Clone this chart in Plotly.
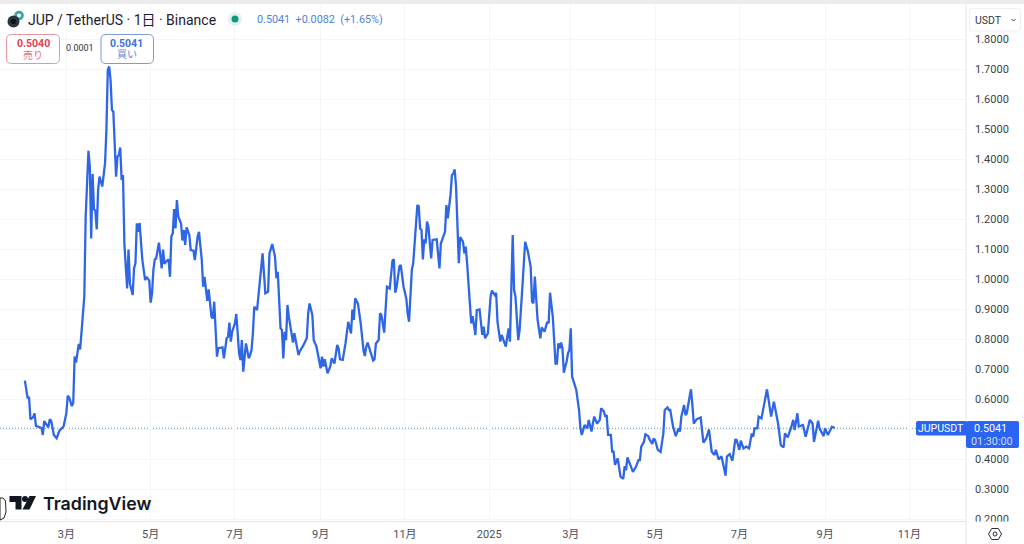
import datetime as dt
import plotly.graph_objects as go

START = dt.date(2024, 1, 31)
# days since first listing bar
days = [0,2,3,4,6,7,8,12,13,14,17,18,19,21,23,25,28,30,31,32,34,35,36,37,39,40,43,44,46,47,48,49,50,51,52,53,54,56,58,59,60,61,62,63,64,66,67,68,69,70,71,72,73,74,75,76,78,79,80,81,82,83,85,87,88,90,91,92,93,94,95,97,99,100,101,102,104,105,106,107,108,109,110,111,113,114,115,116,117,119,120,122,123,125,126,128,129,130,132,133,135,136,137,139,140,143,144,146,147,148,149,150,152,153,155,156,157,158,160,162,163,164,165,166,168,172,174,176,177,179,181,182,183,185,186,187,188,189,190,191,194,195,198,199,201,204,205,206,208,209,211,212,214,215,216,217,219,221,222,224,226,227,228,230,232,234,236,237,238,239,241,243,245,246,247,248,252,253,254,256,257,258,260,262,264,266,267,268,269,271,272,274,276,277,278,280,281,284,285,286,287,288,289,290,291,292,294,295,298,300,301,304,305,306,308,309,310,311,312,314,315,317,318,319,320,323,324,326,327,329,331,332,333,335,337,338,340,341,342,344,345,348,350,351,353,354,355,357,358,360,362,364,366,367,368,369,371,373,374,376,378,379,380,382,384,385,386,387,388,389,390,391,392,393,394,395,396,399,401,402,403,405,407,408,410,411,412,414,416,417,419,420,421,422,424,425,426,427,429,431,433,434,435,436,438,440,442,444,445,446,448,449,451,452,454,455,456,458,460,462,463,465,466,467,469,471,473,474,475,477,478,479,481,482,483,484,486,489,491,493,495,497,499,500,502,504,506,507,508,510,512,514,515,517,518,520,522,524,526,527,528,530,531,533,537,540,542,544,545,547,549,550,552,554,556,557,559,560,563,565,568,570,571,574,575,578,579,581,583,584,586]
prices = [0.663,0.604,0.609,0.534,0.541,0.554,0.512,0.505,0.482,0.528,0.507,0.534,0.53,0.482,0.471,0.496,0.51,0.554,0.612,0.607,0.578,0.589,0.743,0.723,0.785,0.767,0.943,1.209,1.429,1.376,1.137,1.352,1.234,1.229,1.167,1.298,1.343,1.31,1.387,1.498,1.698,1.71,1.665,1.565,1.56,1.343,1.41,1.415,1.44,1.332,1.348,1.12,1.043,0.97,1.10,0.987,0.948,1.037,1.054,1.187,1.159,1.189,1.065,0.998,1.009,0.996,0.923,0.954,1.032,1.067,1.07,1.123,1.037,1.10,1.052,1.059,1.067,1.009,1.143,1.154,1.235,1.17,1.265,1.21,1.187,1.13,1.165,1.115,1.174,1.148,1.098,1.096,1.065,1.143,1.159,1.065,0.976,1.009,0.929,0.967,0.876,0.87,0.926,0.743,0.771,0.774,0.737,0.804,0.809,0.856,0.793,0.826,0.854,0.885,0.754,0.732,0.798,0.693,0.787,0.737,0.748,0.765,0.82,0.909,0.898,1.087,0.954,0.96,1.087,1.118,1.076,1.004,1.026,0.837,0.832,0.737,0.826,0.798,0.915,0.876,0.79,0.821,0.748,0.762,0.776,0.804,0.887,0.92,0.882,0.798,0.776,0.748,0.704,0.743,0.71,0.734,0.687,0.71,0.737,0.72,0.782,0.771,0.734,0.732,0.787,0.859,0.82,0.90,0.865,0.937,0.92,0.854,0.765,0.745,0.776,0.79,0.73,0.734,0.787,0.798,0.887,0.882,0.823,0.976,0.97,1.063,1.067,0.956,0.976,1.043,1.048,0.976,0.937,0.887,0.859,1.032,1.054,1.248,1.243,1.17,1.165,1.067,1.134,1.12,1.193,1.176,1.07,1.132,1.134,1.037,1.12,1.159,1.248,1.204,1.282,1.348,1.352,1.367,1.31,1.054,1.141,1.126,1.087,1.11,1.054,0.854,0.878,0.815,0.898,0.90,0.815,0.843,0.804,0.82,0.943,0.963,0.948,0.956,0.859,0.793,0.815,0.776,0.837,0.793,1.148,0.965,0.943,0.798,0.832,0.976,1.126,1.093,1.043,0.926,0.921,1.01,0.865,0.804,0.84,0.826,0.859,0.854,0.956,0.876,0.72,0.72,0.787,0.77,0.79,0.77,0.689,0.709,0.726,0.754,0.765,0.837,0.676,0.632,0.565,0.504,0.482,0.515,0.504,0.532,0.493,0.52,0.543,0.52,0.532,0.571,0.56,0.543,0.548,0.482,0.482,0.426,0.426,0.382,0.404,0.343,0.335,0.378,0.365,0.407,0.382,0.359,0.374,0.398,0.398,0.443,0.459,0.484,0.478,0.467,0.452,0.47,0.465,0.432,0.425,0.487,0.565,0.574,0.565,0.565,0.51,0.478,0.504,0.493,0.543,0.582,0.548,0.554,0.609,0.634,0.582,0.52,0.534,0.54,0.456,0.47,0.5,0.426,0.415,0.432,0.4,0.411,0.37,0.346,0.41,0.418,0.396,0.465,0.465,0.432,0.463,0.437,0.443,0.437,0.487,0.476,0.504,0.504,0.543,0.537,0.634,0.543,0.593,0.543,0.52,0.448,0.44,0.487,0.474,0.5,0.532,0.498,0.554,0.51,0.515,0.476,0.532,0.52,0.459,0.529,0.504,0.478,0.504,0.482,0.504,0.509,0.505]

last_price = 0.5041
month_ticks = ["2024-03-01","2024-05-01","2024-07-01","2024-09-01","2024-11-01","2025-01-01","2025-03-01","2025-05-01","2025-07-01","2025-09-01","2025-11-01"]
month_labels = ["3月","5月","7月","9月","11月","2025","3月","5月","7月","9月","11月"]
price_ticks = [0.2,0.3,0.4,0.5,0.6,0.7,0.8,0.9,1.0,1.1,1.2,1.3,1.4,1.5,1.6,1.7,1.8]

dates = [(START + dt.timedelta(days=int(d))).isoformat() for d in days]

W, H = 1024, 544
L, R, T, B = 0, 58, 5, 23
PW, PH = W - L - R, H - T - B
FONT = "Roboto, 'Noto Sans CJK JP', sans-serif"
INK = "#131722"
BLUE = "#2f66e6"
LABEL_BLUE = "#2b63f2"


def px(x):
    return (x - L) / PW


def py(y):
    return (H - B - y) / PH


def rrect(x0, y0, x1, y1, r):
    X0, X1, Y0, Y1 = px(x0), px(x1), py(y0), py(y1)
    rx, ry = r / PW, r / PH
    return (f"M{X0+rx},{Y0} L{X1-rx},{Y0} Q{X1},{Y0} {X1},{Y0-ry} L{X1},{Y1+ry} Q{X1},{Y1} {X1-rx},{Y1} "
            f"L{X0+rx},{Y1} Q{X0},{Y1} {X0},{Y1+ry} L{X0},{Y0-ry} Q{X0},{Y0} {X0+rx},{Y0} Z")


def poly(points):
    return "M" + " L".join(f"{px(a)},{py(b)}" for a, b in points) + " Z"


shapes = []


def box(x0, y0, x1, y1, r=0, fill="rgba(0,0,0,0)", line="rgba(0,0,0,0)", w=1):
    shapes.append(dict(type="path", xref="paper", yref="paper", path=rrect(x0, y0, x1, y1, r), fillcolor=fill,
                       line=dict(color=line, width=w), layer="above"))


def circ(cx, cy, r, fill, line="rgba(0,0,0,0)", w=0):
    shapes.append(dict(type="circle", xref="paper", yref="paper", x0=px(cx - r), x1=px(cx + r), y0=py(cy + r), y1=py(cy - r),
                       fillcolor=fill, line=dict(color=line, width=w), layer="above"))


annotations = []


def text(x, y, s, size=11, color=INK, anchor="left", family=FONT, bold=False, weight=None):
    f = dict(size=size, color=color, family=family)
    if weight:
        f["weight"] = weight
    annotations.append(dict(xref="paper", yref="paper", x=px(x), y=py(y), text=f"<b>{s}</b>" if bold else s, showarrow=False,
                            xanchor=anchor, yanchor="middle", font=f, borderpad=0))


# top band
box(0, 0, W, 4, fill="#ececec")
# clip of lowest price label and right axis rule
box(967, 521.5, W, 527, fill="#ffffff")
shapes.append(dict(type="line", xref="paper", yref="paper", x0=1, x1=1, y0=py(544), y1=py(4), line=dict(color="#e4e6ec", width=1), layer="above"))

# header
circ(19, 15.5, 4.8, "#3aa6a6")
circ(19, 15.5, 2, "#ffffff")
circ(13.5, 21.5, 6, "#26363c")
circ(13.5, 21.5, 2.6, "#0c1418")
text(27, 20, "JUP / TetherUS · 1日 · Binance", size=14, color="#1c2030")
circ(235, 19, 7, "#e3f2ef")
circ(235, 19, 3.5, "#089981")
text(256, 19.5, "0.5041  +0.0082  (+1.65%)", size=10.8, color="#4f7fdc")

# bid / ask boxes
box(6.5, 34.5, 59.5, 63.5, r=5, fill="#ffffff", line="#e7949c")
text(33, 43, "0.5040", size=10.5, color="#e0424f", anchor="center", bold=True)
text(33, 55, "売り", size=10, color="#e0727c", anchor="center")
text(80, 48, "0.0001", size=9, color="#333333", anchor="center")
box(101, 34.5, 153.5, 63.5, r=5, fill="#ffffff", line="#7b9bd8")
text(127, 43, "0.5041", size=10.5, color="#3f6fd8", anchor="center", bold=True)
text(127, 55, "買い", size=10, color="#5c85dc", anchor="center")

# currency selector
box(969.5, 8.5, 1020.5, 31, r=2, fill="#ffffff", line="#eeeff2")
text(973.5, 20, "USDT", size=10.5, color="#333a45")
shapes.append(dict(type="path", xref="paper", yref="paper", path=f"M{px(1011.5)},{py(19)} L{px(1013.5)},{py(21)} L{px(1015.5)},{py(19)}",
                   line=dict(color="#444", width=1), layer="above"))

# last price labels
box(916, 421, 967, 435.5, r=2, fill=LABEL_BLUE)
text(941, 428.3, "JUPUSDT", size=10.5, color="#ffffff", anchor="center")
box(966, 421, 1019, 448, r=2, fill=LABEL_BLUE)
text(990, 428.5, "0.5041", size=10.8, color="#ffffff", anchor="center")
text(992, 441, "01:30:00", size=10.8, color="#cfdcfb", anchor="center")

# settings icon
shapes.append(dict(type="path", xref="paper", yref="paper", layer="above", line=dict(color="#2a2e39", width=1),
                   path=poly([(988.5, 534), (991.7, 528.5), (998.3, 528.5), (1001.5, 534), (998.3, 539.5), (991.7, 539.5)])))
circ(995, 534, 2, "rgba(0,0,0,0)", "#2a2e39", 1)

# TradingView mark
shapes.append(dict(type="path", xref="paper", yref="paper", layer="above", fillcolor=INK, line=dict(width=0),
                   path=poly([(9.5, 496), (21.5, 496), (21.5, 509.5), (15.5, 509.5), (15.5, 502), (9.5, 502)])))
circ(25, 499, 3, INK)
shapes.append(dict(type="path", xref="paper", yref="paper", layer="above", fillcolor=INK, line=dict(width=0),
                   path=poly([(29.5, 496), (36, 496), (29.5, 509.5), (22.5, 509.5)])))
text(42, 503, "TradingView", size=17.8, color=INK, family="Inter, Roboto, sans-serif", weight=600)
shapes.append(dict(type="path", xref="paper", yref="paper", layer="above", fillcolor="#ffffff", line=dict(color="#222", width=1),
                   path=poly([(0, 498), (3, 498), (5.5, 501), (6, 512), (4, 518), (0, 520)])))

fig = go.Figure()
fig.add_trace(go.Scatter(x=dates, y=prices, mode="lines", line=dict(color=BLUE, width=2.3), hoverinfo="skip", showlegend=False, cliponaxis=True))
# dotted last price rule
fig.add_hline(y=last_price, line=dict(color="#5f93a8", width=1, dash="1px,2px"), layer="below")

fig.update_layout(
    width=W, height=H, margin=dict(l=L, r=R, t=T, b=B, pad=0), paper_bgcolor="#ffffff", plot_bgcolor="#ffffff",
    showlegend=False, shapes=list(fig.layout.shapes) + shapes, annotations=annotations,
    font=dict(family=FONT, size=11, color="#4a4f5a"),
    xaxis=dict(type="date", range=["2024-01-13", "2025-12-12"], tickmode="array", tickvals=month_ticks, ticktext=month_labels,
               showgrid=True, gridcolor="#f4f5f8", gridwidth=1, showline=True, linecolor="#e4e6ec", linewidth=1, ticks="", zeroline=False,
               tickfont=dict(size=11, color="#4a4f5a"), ticklabelstandoff=3),
    yaxis=dict(side="right", range=[0.195, 1.915], tickmode="array", tickvals=price_ticks,
               ticktext=[f"{v:.4f}" for v in price_ticks], showgrid=True, gridcolor="#f4f5f8", gridwidth=1, zeroline=False, showline=False,
               ticks="", tickfont=dict(size=11, color="#3a3f4a"), ticklabelstandoff=8),
)
fig.write_html("out.html", config=dict(displayModeBar=False), post_script="document.body.style.margin='0';")
